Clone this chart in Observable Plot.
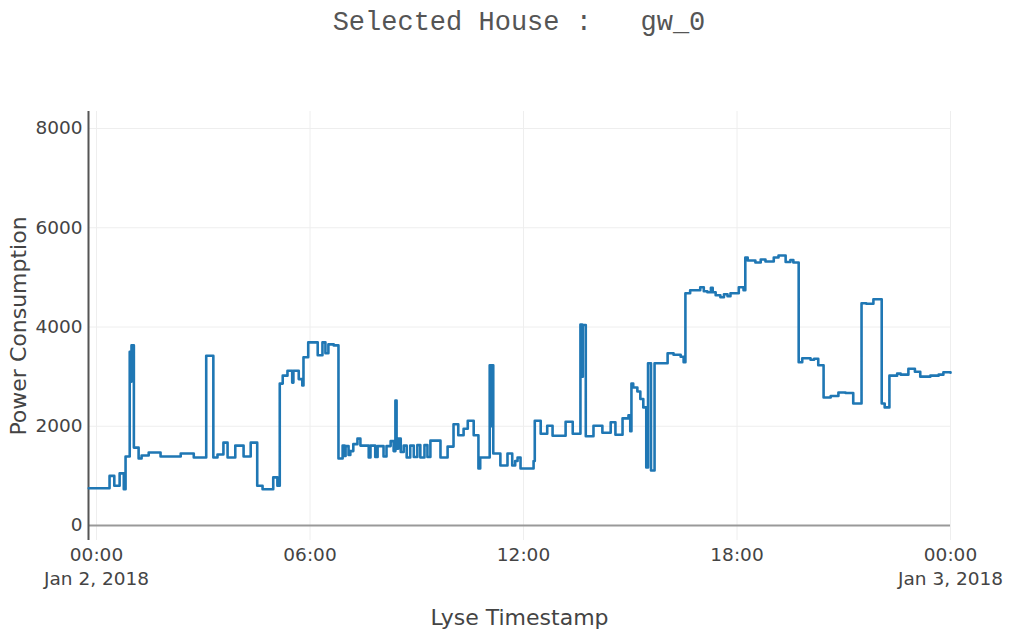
<!DOCTYPE html>
<html>
<head>
<meta charset="utf-8">
<script src="https://cdn.jsdelivr.net/npm/d3@7"></script>
<script src="https://cdn.jsdelivr.net/npm/@observablehq/plot@0.6"></script>
<style>
  html, body { margin: 0; padding: 0; background: #fff; }
  #wrap { position: relative; width: 1009px; height: 632px; }
  #title { position: absolute; left: 88px; width: 862px; top: 0; height: 50px; line-height: 47px;
           text-align: center; font-family: "Liberation Mono", monospace; font-size: 27px; color: #555; white-space: pre; }
  #chart { position: absolute; left: 0; top: 50px; }
</style>
</head>
<body>
<div id="wrap">
  <div id="title">Selected House :   gw_0</div>
  <div id="chart"></div>
</div>
<script>
// Minutes after 2018-01-02 00:00 at which each reading level begins
const minutes = [
  -13, 22, 30, 39, 46, 49, 56, 58, 59, 63, 71, 76, 88, 108, 142, 164, 185, 197, 204, 214,
  221, 234, 248, 260, 271, 280, 298, 305, 309, 314, 322, 330, 332, 341, 347, 349, 357, 373, 381, 386,
  391, 400, 408, 415, 418, 420, 425, 428, 433, 440, 445, 459, 462, 470, 474, 484, 489, 496, 501, 504,
  506, 509, 513, 518, 523, 529, 535, 541, 546, 553, 558, 563, 580, 592, 602, 610, 619, 626, 636, 644,
  647, 663, 666, 667, 669, 681, 693, 701, 706, 710, 715, 737, 739, 749, 760, 769, 791, 803, 816, 819,
  820, 825, 838, 853, 867, 875, 887, 897, 900, 902, 905, 912, 917, 922, 927, 930, 935, 941, 951, 963,
  973, 985, 990, 993, 1001, 1018, 1024, 1030, 1036, 1039, 1044, 1052, 1058, 1064, 1069, 1083, 1091, 1094, 1098, 1111,
  1120, 1128, 1142, 1150, 1162, 1170, 1175, 1184, 1190, 1204, 1210, 1217, 1226, 1238, 1251, 1263, 1276, 1290, 1298, 1310,
  1324, 1329, 1337, 1350, 1356, 1369, 1380, 1389, 1406, 1420, 1428, 1440
];
// Power consumption level starting at each of those minutes
const power = [
  750, 1000, 800, 1050, 730, 1390, 3500, 2900, 3630, 1570, 1350, 1410, 1470, 1390, 1450, 1370, 3420, 1370, 1430, 1670,
  1370, 1610, 1390, 1670, 800, 730, 970, 800, 2860, 3020, 3120, 2880, 3120, 2950, 2820, 3390, 3690, 3430, 3690, 3470,
  3650, 3630, 1350, 1610, 1400, 1600, 1420, 1500, 1640, 1750, 1610, 1370, 1610, 1380, 1600, 1390, 1600, 1700, 1500, 2520,
  1550, 1750, 1480, 1610, 1370, 1610, 1380, 1620, 1370, 1620, 1380, 1710, 1370, 1590, 2040, 1820, 1950, 2110, 1820, 1150,
  1370, 3230, 2000, 3230, 1450, 1210, 1450, 1210, 1300, 1370, 1150, 1300, 2110, 1850, 2010, 1810, 2090, 1850, 4050, 3000,
  4040, 1800, 2010, 1870, 2080, 1830, 2160, 2220, 1900, 2860, 2780, 2700, 2550, 2380, 1170, 3270, 1110, 3270, 3270, 3470,
  3440, 3400, 3290, 4680, 4740, 4800, 4720, 4700, 4790, 4700, 4640, 4600, 4660, 4620, 4680, 4800, 4740, 5400, 5340, 5300,
  5360, 5320, 5400, 5440, 5310, 5350, 5300, 3290, 3370, 3340, 3360, 3230, 2580, 2610, 2680, 2670, 2460, 4480, 4470, 4560,
  2460, 2380, 3020, 3060, 3040, 3160, 3100, 3000, 3020, 3040, 3090, 3080
];
const yTicks = [0, 2000, 4000, 6000, 8000];
const xTickHours = [0, 6, 12, 18, 24];
const dateLabels = ["Jan 2, 2018", "Jan 3, 2018"];
const dateLabelHours = [0, 24];

const base = Date.UTC(2018, 0, 2);
const data = minutes.map((m, i) => ({t: new Date(base + m * 60000), v: power[i]}));
const xTicks = xTickHours.map(h => new Date(base + h * 3600000));
const dateTicks = dateLabelHours.map(h => new Date(base + h * 3600000));
const xStart = new Date(base - 13.5 * 60000);
const xEnd = new Date(base + 24 * 3600000);

const chart = Plot.plot({
  width: 1009,
  height: 582,
  marginTop: 61,
  marginBottom: 92,
  marginLeft: 88,
  marginRight: 59,
  style: {fontFamily: "DejaVu Sans", fontSize: "18.5px", color: "#444", background: "#fff", overflow: "visible"},
  x: {type: "utc", domain: [xStart, xEnd]},
  y: {domain: [-302, 8343]},
  marks: [
    Plot.gridY(yTicks, {stroke: "#eee", strokeOpacity: 1, strokeWidth: 1}),
    Plot.gridX(xTicks, {stroke: "#eee", strokeOpacity: 1, strokeWidth: 1}),
    Plot.ruleY([0], {stroke: "#999", strokeWidth: 2}),
    Plot.ruleX([xStart], {stroke: "#555", strokeWidth: 2}),
    Plot.line(data, {x: "t", y: "v", curve: "step-after", stroke: "#1f77b4", strokeWidth: 2.6}),
    Plot.axisY(yTicks, {tickSize: 0, tickPadding: 6, label: null, tickFormat: d3.format("d"), fill: "#444"}),
    Plot.axisX(xTicks, {tickSize: 0, tickPadding: 7, label: null, tickFormat: d3.utcFormat("%H:%M"), fill: "#444"}),
    Plot.text(dateTicks, {x: d => d, text: (d, i) => dateLabels[i], frameAnchor: "bottom", dy: 44, fill: "#444"}),
    Plot.text(["Lyse Timestamp"], {text: d => d, frameAnchor: "bottom", dy: 84, fontSize: 22, fill: "#444"}),
    Plot.text(["Power Consumption"], {text: d => d, frameAnchor: "left", textAnchor: "middle", dx: -70, rotate: -90, fontSize: 22, fill: "#444"})
  ]
});
document.getElementById("chart").appendChild(chart);
</script>
</body>
</html>
